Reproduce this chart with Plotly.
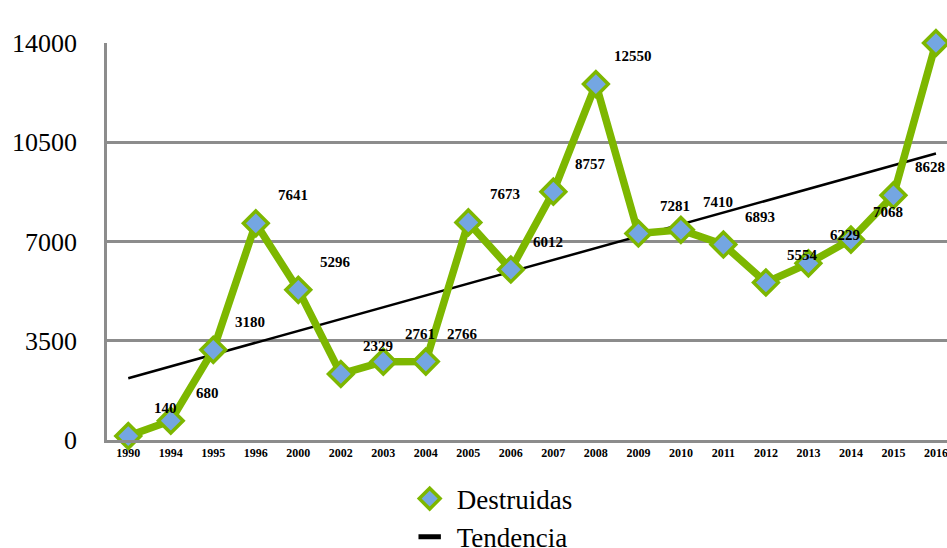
import numpy as np
import plotly.graph_objects as go

years = ["1990", "1994", "1995", "1996", "2000", "2002", "2003", "2004", "2005", "2006",
         "2007", "2008", "2009", "2010", "2011", "2012", "2013", "2014", "2015", "2016"]
destruidas = [140, 680, 3180, 7641, 5296, 2329, 2761, 2766, 7673, 6012,
              8757, 12550, 7281, 7410, 6893, 5554, 6229, 7068, 8628, 14000]
y_ticks = [0, 3500, 7000, 10500, 14000]
y_tick_labels = ["0", "3500", "7000", "10500", "14000"]

GREEN = "#7db700"
BLUE = "#74a6e2"
GRID = "#8c8c8c"
SERIF = "Liberation Serif, Times New Roman, serif"

idx = np.arange(len(years))
slope, intercept = np.polyfit(idx, np.array(destruidas, dtype=float), 1)
trend = [float(intercept + slope * i) for i in idx]

fig = go.Figure()
fig.add_trace(go.Scatter(x=years, y=trend, mode="lines", line=dict(color="black", width=2.5),
                         showlegend=False, cliponaxis=False, hoverinfo="skip"))
fig.add_trace(go.Scatter(x=years, y=destruidas, mode="lines", line=dict(color=GREEN, width=7.5),
                         showlegend=False, cliponaxis=False))
fig.add_trace(go.Scatter(x=years, y=destruidas, mode="markers", name="Destruidas",
                         marker=dict(symbol="diamond", size=19, color=BLUE,
                                     line=dict(color=GREEN, width=3.5)),
                         cliponaxis=False))
fig.add_trace(go.Scatter(x=[None], y=[None], mode="markers", name="Tendencia",
                         marker=dict(symbol="line-ew-open", size=16, color="black",
                                     line=dict(color="black", width=5))))

for i, v in enumerate(destruidas):
    fig.add_annotation(x=i, y=v, xref="x", yref="y", text=f"<b>{v}</b>", showarrow=False,
                       xshift=37, yshift=28, font=dict(family=SERIF, size=15, color="black"))

fig.update_layout(
    width=947, height=548,
    margin=dict(l=107, r=0, t=43, b=108),
    plot_bgcolor="white", paper_bgcolor="white",
    xaxis=dict(type="category", range=[-0.5, 19.26], showgrid=False,
               showline=True, linecolor=GRID, linewidth=2.5, ticks="",
               tickfont=dict(family=SERIF, size=12, color="black"),
               tickprefix="<b>", ticksuffix="</b>"),
    yaxis=dict(range=[0, 14000], tickvals=y_ticks, ticktext=y_tick_labels,
               showgrid=True, gridcolor=GRID, gridwidth=2.5,
               showline=True, linecolor=GRID, linewidth=2.5, zeroline=False, ticks="",
               tickfont=dict(family=SERIF, size=26, color="black"), ticklabelstandoff=22),
    legend=dict(x=0.352, y=0.134, xref="paper", yref="container", xanchor="left", yanchor="top",
                orientation="v", itemwidth=44,
                font=dict(family=SERIF, size=27, color="black"), tracegroupgap=0,
                itemsizing="trace"),
    showlegend=True,
)

fig.write_html("out.html", config={"displayModeBar": False},
               post_script="document.body.style.margin='0';document.body.style.overflow='hidden';")
